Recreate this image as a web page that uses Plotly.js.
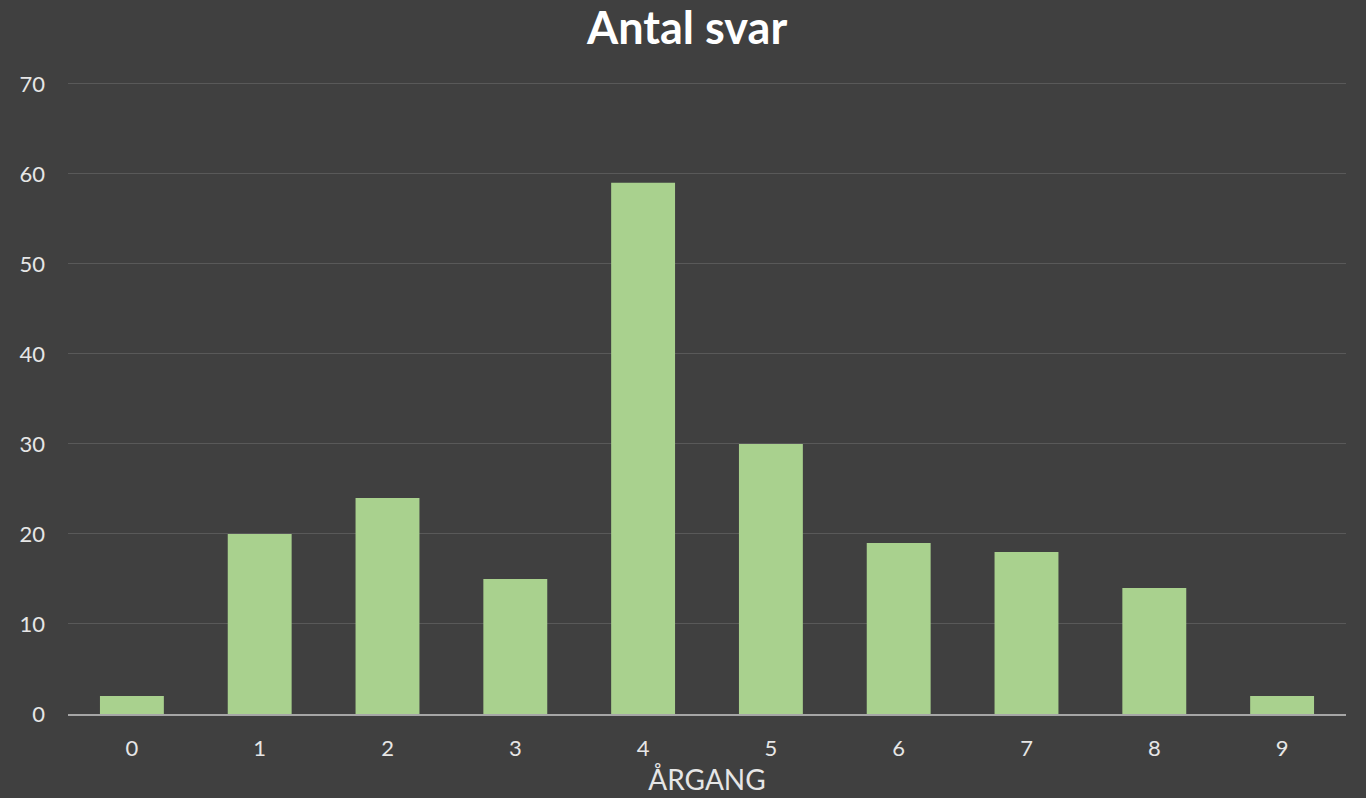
<!DOCTYPE html>
<html>
<head>
<meta charset="utf-8">
<script src="https://cdn.plot.ly/plotly-3.0.1.min.js"></script>
<style>html,body{margin:0;padding:0;background:#404040;}#chart{width:1366px;height:798px;}</style>
</head>
<body>
<div id="chart"></div>
<script>
const categories = ["0","1","2","3","4","5","6","7","8","9"];
const values = [2, 20, 24, 15, 59, 30, 19, 18, 14, 2];
const yTicks = [0, 10, 20, 30, 40, 50, 60, 70];

const trace = {
  type: "bar",
  x: categories,
  y: values,
  marker: {color: "#a9d18e", line: {width: 0}},
  hoverinfo: "x+y"
};

const layout = {
  width: 1366, height: 798,
  paper_bgcolor: "#404040",
  plot_bgcolor: "#404040",
  margin: {l: 68, r: 20, t: 82, b: 84},
  bargap: 0.5,
  showlegend: false,
  font: {family: "Lato, 'Open Sans', sans-serif", color: "#e6e6e6"},
  title: {
    text: "<b>Antal svar</b>",
    x: 0.503, xanchor: "center",
    y: 0.965, yanchor: "middle",
    font: {family: "Lato, 'DejaVu Sans', sans-serif", size: 45, color: "#ffffff"}
  },
  xaxis: {
    type: "category",
    categoryorder: "array",
    categoryarray: categories,
    range: [-0.5, 9.5],
    showline: true, linecolor: "#a6a6a6", linewidth: 2,
    showgrid: false, zeroline: false,
    ticks: "", ticklabelstandoff: 14,
    tickfont: {size: 22, color: "#e6e6e6"},
    title: {text: "ÅRGANG", standoff: 10, font: {size: 28, color: "#e6e6e6"}}
  },
  yaxis: {
    range: [0, 70.2],
    tickvals: yTicks,
    showgrid: true, gridcolor: "#595959", gridwidth: 1,
    zeroline: false, showline: false,
    ticks: "", ticklabelstandoff: 22,
    tickfont: {size: 22, color: "#e6e6e6"}
  }
};

Plotly.newPlot("chart", [trace], layout, {displayModeBar: false, staticPlot: true});
</script>
</body>
</html>
